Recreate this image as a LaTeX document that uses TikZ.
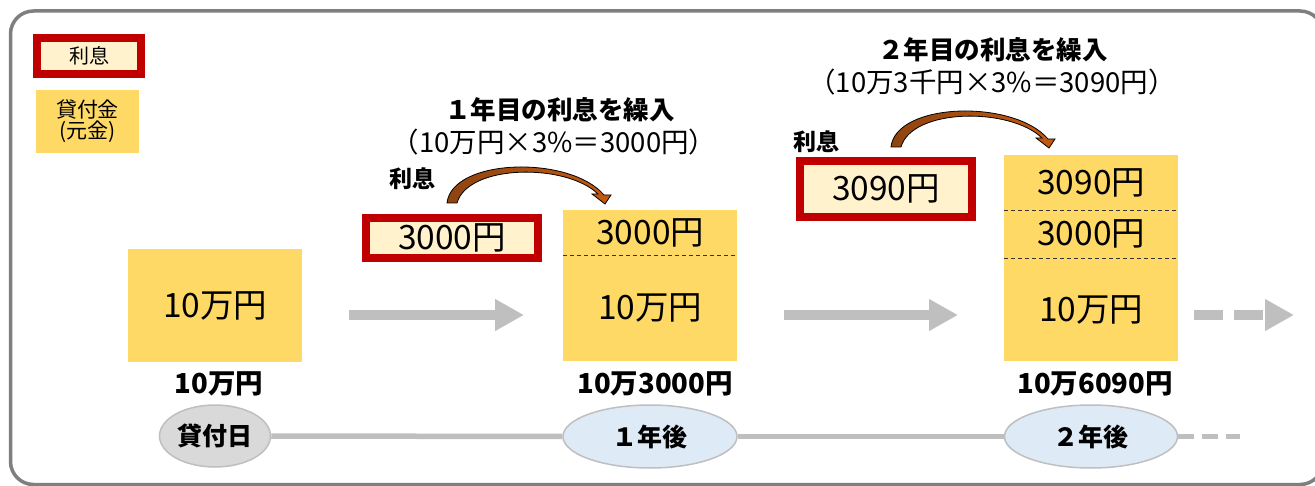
\documentclass[tikz,border=0pt]{standalone}
\usepackage{fontspec}
\setmainfont{Noto Sans CJK JP}
\usetikzlibrary{arrows.meta,shapes.geometric}
\definecolor{redb}{HTML}{C00000}
\definecolor{cream}{HTML}{FFF2CC}
\definecolor{yel}{HTML}{FFD966}
\definecolor{lgray}{HTML}{BFBFBF}
\definecolor{fgray}{HTML}{7F7F7F}
\definecolor{egray}{HTML}{D9D9D9}
\definecolor{eblue}{HTML}{DEEBF7}
\definecolor{brownL}{HTML}{8E4410}
\definecolor{brownR}{HTML}{C55A11}
\tikzset{
  fs/.style={font=\fontsize{#1pt}{#1pt}\selectfont},
  fsb/.style={font=\fontsize{#1pt}{#1pt}\selectfont\bfseries},
  yb/.style={fill=yel, inner sep=0pt, anchor=north west, fs=33.5},
  redbox/.style={draw=redb, line width=8pt, fill=cream, inner sep=0pt, fs=33.5},
  garrow/.style={draw=lgray, line width=10pt, -{Triangle[length=29pt,width=30pt]}},
  tl/.style={draw=lgray, line width=5.5pt},
  ell/.style={ellipse, draw=lgray, line width=1.5pt, inner sep=0pt, fsb=25},
  sep/.style={draw=black!80, line width=1pt, dash pattern=on 4pt off 3pt},
  lbl/.style={fsb=27.5},
}
\newcommand{\brownarrow}{%
  \path[draw=black, line width=0.8pt, left color=brownL, right color=brownR]
    (447,203) .. controls (452,158) and (570,155) .. (604,195)
    -- (611,195) -- (605,204) -- (592,194) -- (598,194)
    .. controls (566,163) and (468,164) .. (457,203) -- cycle;}
\begin{document}
\begin{tikzpicture}[x=1pt,y=-1pt]
\useasboundingbox (0,0) rectangle (1315,486);
\fill[white] (0,0) rectangle (1315,486);
% frame
\draw[fgray, line width=3.5pt, rounded corners=23pt] (10.5,11) rectangle (1323,484.5);

% legend
\node[redbox, minimum width=104pt, minimum height=36pt, fs=20] (leg1) at (89,56) {利息};
\node[fill=yel, inner sep=0pt, minimum width=103pt, minimum height=63pt, align=center, fs=21] (leg2) at (87.5,121.5) {貸付金\\(元金)};

% stage 0
\node[yb, minimum width=174pt, minimum height=113pt] (b1) at (128,249) {10万円};
\node[lbl] (l1) at (219,384) {10万円};

% stage 1
\node[yb, minimum width=174pt, minimum height=45pt] (s2a) at (563,210) {3000円};
\node[yb, minimum width=174pt, minimum height=106pt] (s2b) at (563,255) {10万円};
\draw[sep] (s2a.south west) -- (s2a.south east);
\node[lbl] (l2) at (655,384) {10万3000円};
\node[redbox, minimum width=172pt, minimum height=40pt] (r1) at (452,238) {3000円};
\node[fsb=23] (ri1) at (412,179) {利息};
\node[fsb=25.5] (t1) at (560,110) {１年目の利息を繰入};
\node[fs=27.5] (st1) at (554,142) {（10万円×3\%＝3000円）};
\brownarrow

% stage 2
\node[yb, minimum width=174pt, minimum height=55pt] (s3a) at (1004,155) {3090円};
\node[yb, minimum width=174pt, minimum height=48pt] (s3b) at (1004,210) {3000円};
\node[yb, minimum width=174pt, minimum height=103pt] (s3c) at (1004,258) {10万円};
\draw[sep] (s3a.south west) -- (s3a.south east);
\draw[sep] (s3b.south west) -- (s3b.south east);
\node[lbl] (l3) at (1095,384) {10万6090円};
\node[redbox, minimum width=172pt, minimum height=56pt] (r2) at (886,189) {3090円};
\node[fsb=23] (ri2) at (816,142) {利息};
\node[fsb=25.5] (t2) at (993,50) {２年目の利息を繰入};
\node[fs=27.5] (st2) at (992,82) {（10万3千円×3\%＝3090円）};
\begin{scope}[shift={(444,-56)}]
\brownarrow
\end{scope}

% gray arrows
\coordinate (a1s) at (349,315);
\coordinate (a1e) at (524,315);
\coordinate (a2s) at (784,315);
\coordinate (a2e) at (958,315);
\coordinate (a3s) at (1194,315);
\coordinate (a3e) at (1294,315);
\draw[garrow] (a1s) -- (a1e);
\draw[garrow] (a2s) -- (a2e);
\draw[garrow, dash pattern=on 29pt off 11pt] (a3s) -- (a3e);

% timeline
\node[ell, fill=egray, minimum width=111pt, minimum height=62pt] (d0) at (215,436) {貸付日};
\node[ell, fill=eblue, minimum width=174pt, minimum height=63pt] (y1) at (650,436.5) {１年後};
\node[ell, fill=eblue, minimum width=173pt, minimum height=63pt] (y2) at (1091,436.5) {２年後};
\coordinate (tlend) at (1240,436.5);
\draw[tl] (d0.east) -- (y1.west);
\draw[tl] (y1.east) -- (y2.west);
\draw[tl, dash pattern=on 16pt off 8pt] (y2.east) -- (tlend);
\end{tikzpicture}
\end{document}
